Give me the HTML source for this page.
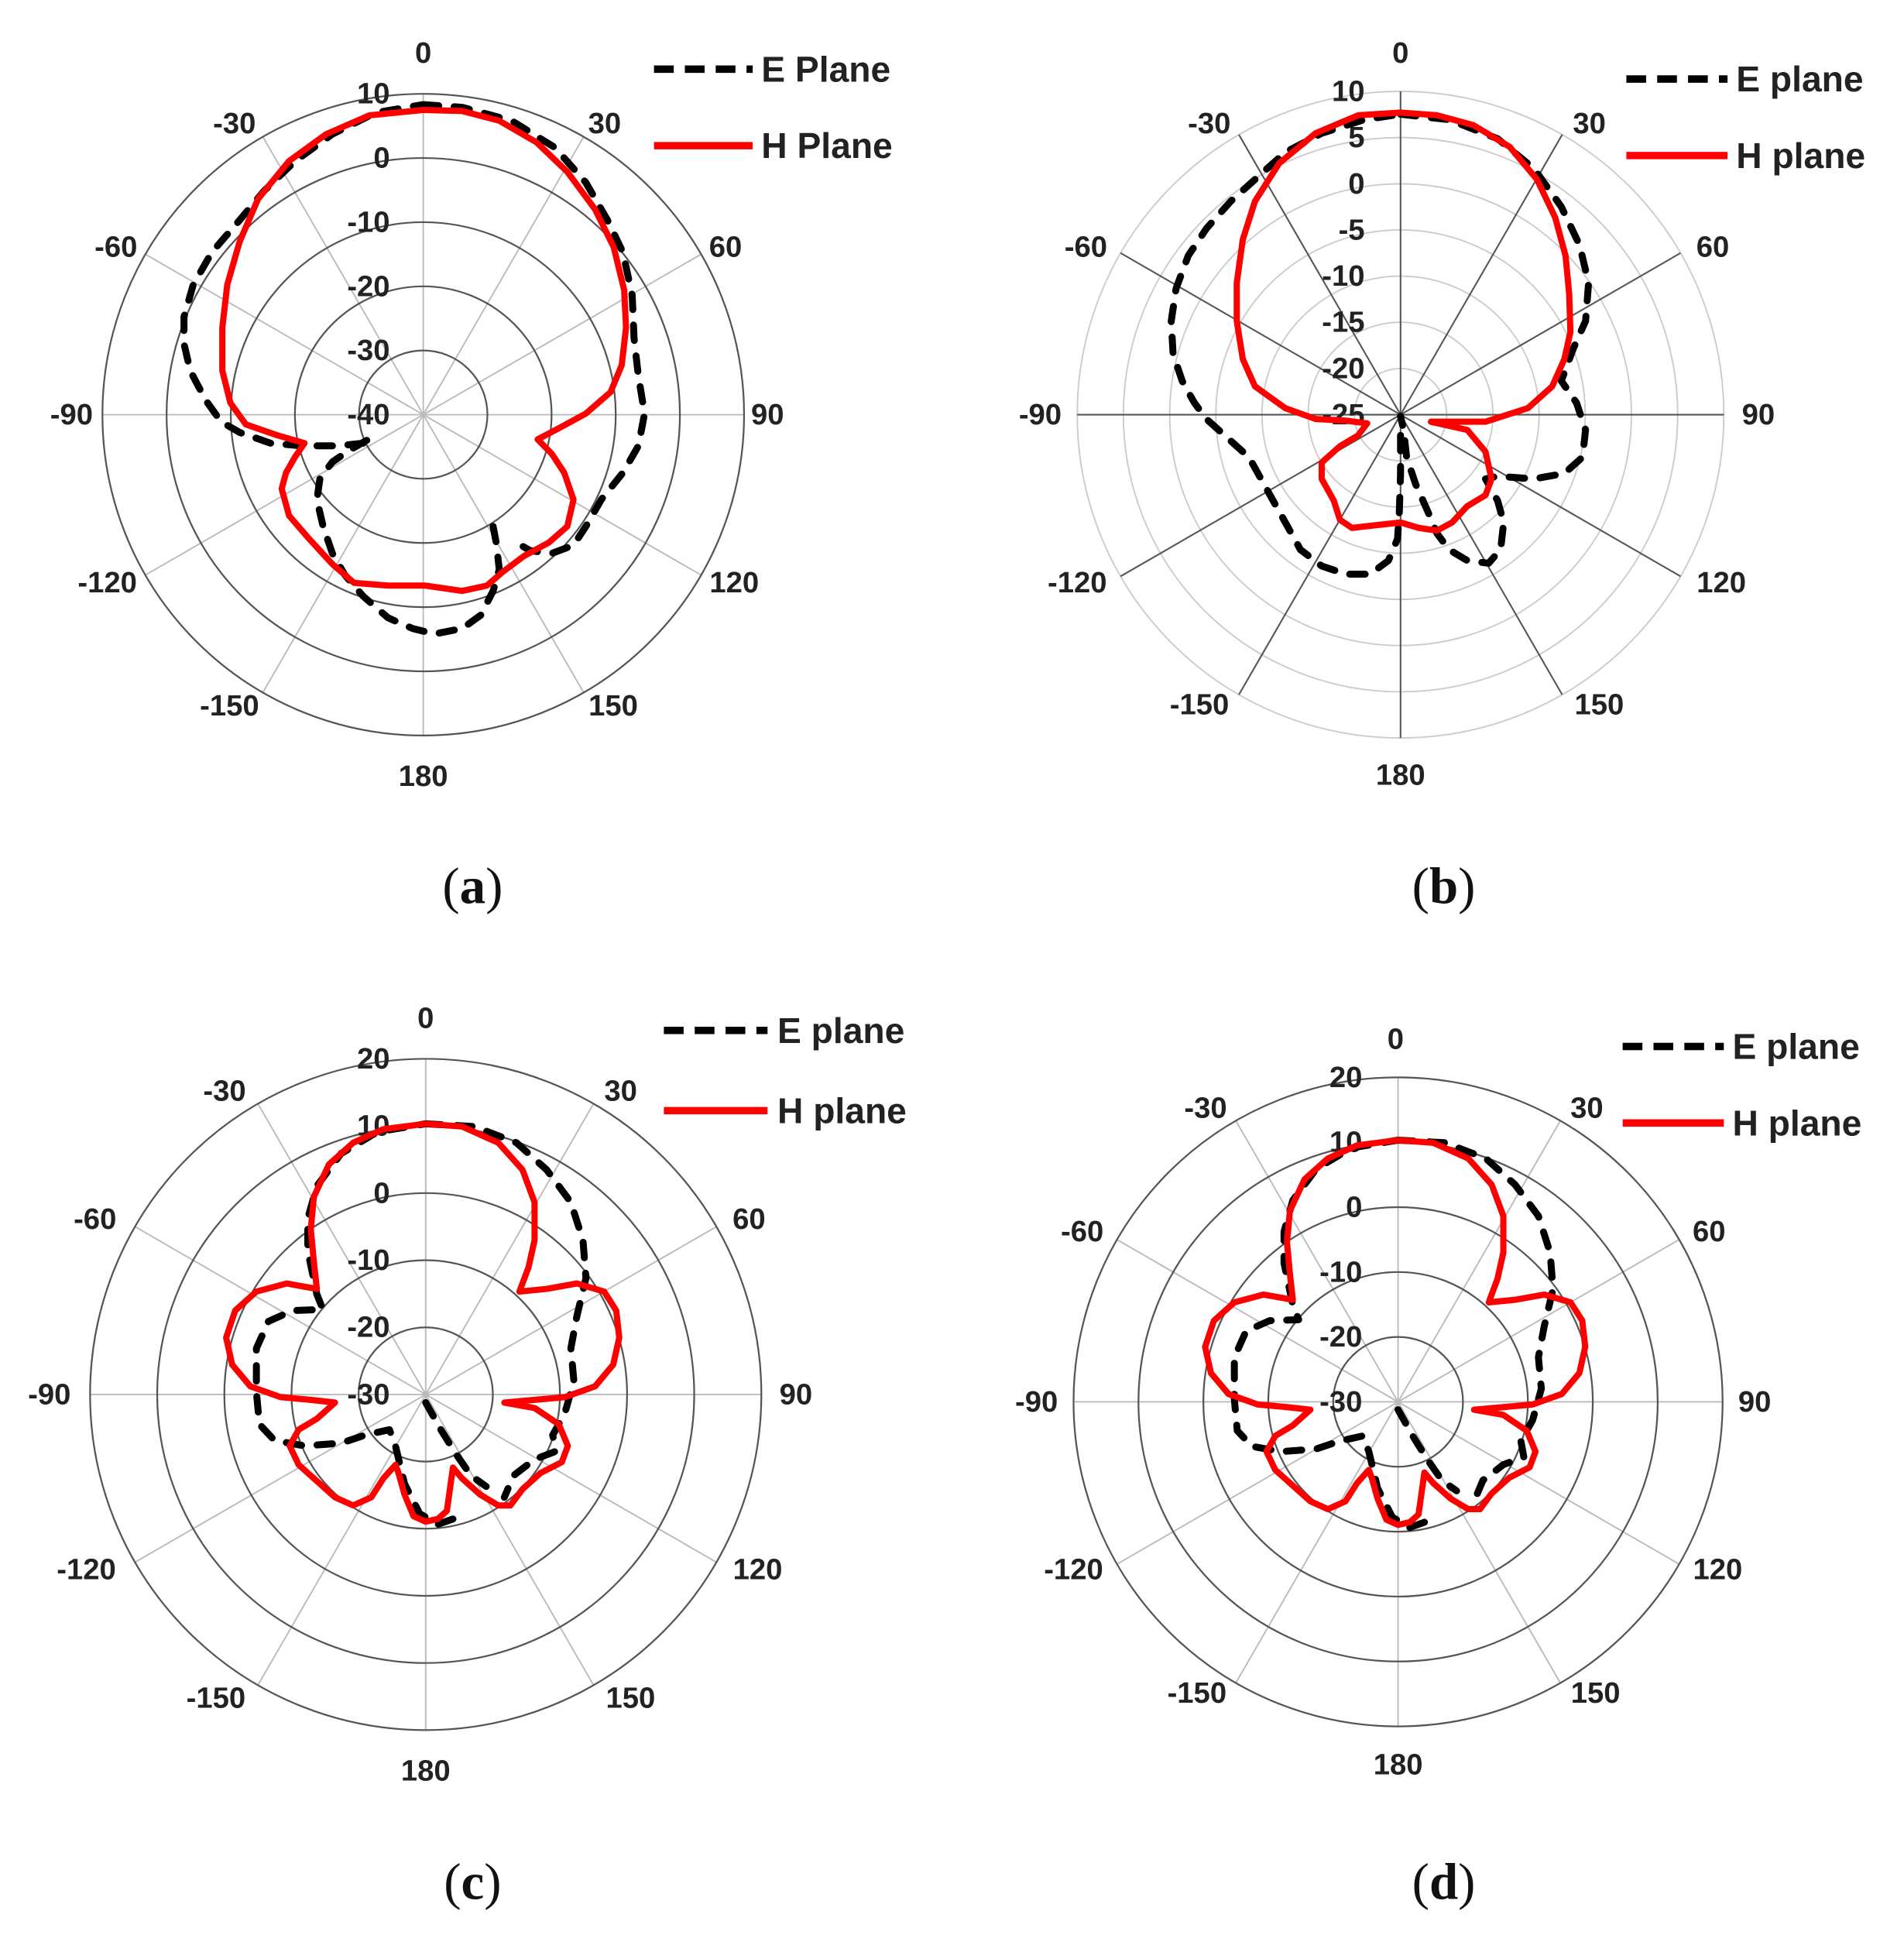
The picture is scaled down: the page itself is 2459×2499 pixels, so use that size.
<!DOCTYPE html>
<html><head><meta charset="utf-8"><style>
html,body{margin:0;padding:0;background:#fff}
svg{display:block}
text{font-family:"Liberation Sans",sans-serif;fill:#111}
.ang{font-size:24px;text-anchor:middle;dominant-baseline:central;font-weight:bold;fill:#222}
.rad{font-size:24px;text-anchor:end;dominant-baseline:central;font-weight:bold;fill:#222}
.leg{font-size:29px;dominant-baseline:central;font-weight:bold;fill:#222}
.cap{font-family:"Liberation Serif",serif;font-size:42px;text-anchor:middle;dominant-baseline:central}
.H{fill:none;stroke:#f00;stroke-width:8;stroke-linejoin:round;stroke-linecap:round;vector-effect:non-scaling-stroke}
.E{fill:none;stroke:#000;stroke-width:9;stroke-dasharray:20 20;stroke-linecap:round;stroke-linejoin:round;vector-effect:non-scaling-stroke}
</style></head><body>
<svg width="2459" height="2499" viewBox="0 0 1543 1568" xmlns="http://www.w3.org/2000/svg">
<rect width="1560" height="1585" fill="#fff"/>

<!-- ===== Panel a ===== -->
<g stroke="#bbb" stroke-width="1.2">
<line x1="343" y1="76" x2="343" y2="596"/><line x1="473" y1="110.8" x2="213" y2="561.2"/>
<line x1="568.2" y1="206" x2="117.8" y2="466"/><line x1="83" y1="336" x2="603" y2="336"/>
<line x1="568.2" y1="466" x2="117.8" y2="206"/><line x1="473" y1="561.2" x2="213" y2="110.8"/>
</g>
<g fill="none" stroke="#555" stroke-width="1.4">
<circle cx="343" cy="336" r="52"/><circle cx="343" cy="336" r="104"/><circle cx="343" cy="336" r="156"/><circle cx="343" cy="336" r="208"/><circle cx="343" cy="336" r="260"/>
</g>
<text class="rad" x="316" y="76">10</text><text class="rad" x="316" y="128">0</text><text class="rad" x="316" y="180">-10</text><text class="rad" x="316" y="232">-20</text><text class="rad" x="316" y="284">-30</text><text class="rad" x="316" y="336">-40</text>
<text class="ang" x="343" y="43">0</text><text class="ang" x="490" y="100">30</text><text class="ang" x="588" y="200">60</text><text class="ang" x="622" y="336">90</text><text class="ang" x="595" y="472">120</text><text class="ang" x="497" y="572">150</text><text class="ang" x="343" y="629">180</text><text class="ang" x="186" y="572">-150</text><text class="ang" x="87" y="472">-120</text><text class="ang" x="58" y="336">-90</text><text class="ang" x="94" y="200">-60</text><text class="ang" x="190" y="100">-30</text>
<g transform="translate(343,336) scale(0.5010,0.4355) translate(-697,-762)">
<path class="E" d="M697,185 L760,190 840,215 910,265 960,330 995,400 1020,460 1035,540 1038,620 1045,690 1055,760 1045,820 1020,870 985,920 960,970 940,1005 905,1020 870,1015 840,995 M810,970 L815,1000 820,1050 810,1090 790,1135 760,1160 715,1170 680,1160 640,1140 600,1100 570,1060 550,1020 535,970 525,920 530,880 550,850 575,830 605,810 620,805 M600,815 L560,820 500,820 450,815 400,795 370,775 345,735 320,680 310,630 310,580 325,520 355,460 400,400 440,345 490,290 550,240 620,200 697,185"/>
<path class="H" d="M697,195 L760,197 820,215 880,255 930,310 975,380 1005,450 1022,530 1025,600 1018,670 1000,720 960,760 920,785 882,808 905,835 925,870 940,920 930,970 900,1000 860,1025 825,1055 800,1080 760,1090 700,1080 640,1080 585,1075 550,1040 510,990 480,950 468,900 475,870 490,840 505,815 460,800 410,780 385,740 372,680 372,600 380,520 400,440 430,360 480,290 540,240 610,205 Z"/>
</g>
<line x1="530" y1="56" x2="610" y2="56" stroke="#000" stroke-width="6" stroke-dasharray="16 9 16 9 16 9 4 0"/>
<text class="leg" x="617" y="56">E Plane</text>
<line x1="530" y1="118" x2="610" y2="118" stroke="#f00" stroke-width="6"/>
<text class="leg" x="617" y="118">H Plane</text>

<!-- ===== Panel b ===== -->
<g fill="none" stroke="#ccc" stroke-width="1.2">
<circle cx="1135" cy="336" r="37.4"/><circle cx="1135" cy="336" r="74.9"/><circle cx="1135" cy="336" r="112.3"/><circle cx="1135" cy="336" r="149.7"/><circle cx="1135" cy="336" r="187.1"/><circle cx="1135" cy="336" r="224.6"/><circle cx="1135" cy="336" r="262"/>
</g>
<g stroke="#555" stroke-width="1.3">
<line x1="1135" y1="74" x2="1135" y2="598"/><line x1="1266" y1="109.1" x2="1004" y2="562.9"/>
<line x1="1361.9" y1="205" x2="908.1" y2="467"/><line x1="873" y1="336" x2="1397" y2="336"/>
<line x1="1361.9" y1="467" x2="908.1" y2="205"/><line x1="1266" y1="562.9" x2="1004" y2="109.1"/>
</g>
<text class="rad" x="1106" y="74">10</text><text class="rad" x="1106" y="111.4">5</text><text class="rad" x="1106" y="148.9">0</text><text class="rad" x="1106" y="186.3">-5</text><text class="rad" x="1106" y="223.7">-10</text><text class="rad" x="1106" y="261.1">-15</text><text class="rad" x="1106" y="298.6">-20</text><text class="rad" x="1106" y="336">-25</text>
<text class="ang" x="1135" y="43">0</text><text class="ang" x="1288" y="100">30</text><text class="ang" x="1388" y="200">60</text><text class="ang" x="1425" y="336">90</text><text class="ang" x="1395" y="472">120</text><text class="ang" x="1296" y="571">150</text><text class="ang" x="1135" y="628">180</text><text class="ang" x="972" y="571">-150</text><text class="ang" x="873" y="472">-120</text><text class="ang" x="843" y="336">-90</text><text class="ang" x="880" y="200">-60</text><text class="ang" x="980" y="100">-30</text>
<g transform="translate(1135,336) scale(0.4916,0.4411) translate(-740,-762)">
<path class="E" d="M740,210 L820,220 900,255 960,310 1005,380 1035,450 1050,520 1045,590 1025,640 1005,700 1030,740 1045,790 1040,840 1010,870 960,880 900,875 880,880 900,920 910,960 905,1010 885,1035 850,1030 820,1010 800,980 785,940 765,890 750,840 745,790 740,765 M740,800 L740,870 738,940 735,990 720,1030 690,1055 650,1055 610,1040 575,1010 550,960 520,900 490,840 450,800 420,770 400,740 380,700 365,650 362,590 370,530 390,470 420,420 460,370 500,330 550,280 610,245 680,220 740,210"/>
<path class="H" d="M740,207 L800,212 860,230 920,270 965,330 995,400 1012,470 1018,540 1020,610 1010,660 990,710 950,750 880,775 790,775 850,790 880,830 890,880 880,910 850,930 825,960 800,975 770,970 740,960 700,965 660,970 640,955 630,920 610,880 610,850 640,820 670,800 685,778 650,773 600,770 550,750 500,710 480,660 470,590 470,520 480,440 500,370 540,300 600,245 670,212 Z"/>
</g>
<line x1="1318" y1="64" x2="1400" y2="64" stroke="#000" stroke-width="6" stroke-dasharray="16 9 16 9 16 9 4 0"/>
<text class="leg" x="1407" y="64">E plane</text>
<line x1="1318" y1="126" x2="1400" y2="126" stroke="#f00" stroke-width="6"/>
<text class="leg" x="1407" y="126">H plane</text>

<!-- ===== Panel c ===== -->
<g stroke="#bbb" stroke-width="1.2">
<line x1="345" y1="858" x2="345" y2="1402"/><line x1="481" y1="894.4" x2="209" y2="1365.6"/>
<line x1="580.6" y1="994" x2="109.4" y2="1266"/><line x1="73" y1="1130" x2="617" y2="1130"/>
<line x1="580.6" y1="1266" x2="109.4" y2="994"/><line x1="481" y1="1365.6" x2="209" y2="894.4"/>
</g>
<g fill="none" stroke="#555" stroke-width="1.4">
<circle cx="345" cy="1130" r="54.4"/><circle cx="345" cy="1130" r="108.8"/><circle cx="345" cy="1130" r="163.2"/><circle cx="345" cy="1130" r="217.6"/><circle cx="345" cy="1130" r="272"/>
</g>
<text class="rad" x="316" y="858">20</text><text class="rad" x="316" y="912.4">10</text><text class="rad" x="316" y="966.8">0</text><text class="rad" x="316" y="1021.2">-10</text><text class="rad" x="316" y="1075.6">-20</text><text class="rad" x="316" y="1130">-30</text>
<text class="ang" x="345" y="825">0</text><text class="ang" x="503" y="884">30</text><text class="ang" x="607" y="988">60</text><text class="ang" x="645" y="1130">90</text><text class="ang" x="614" y="1272">120</text><text class="ang" x="511" y="1376">150</text><text class="ang" x="345" y="1435">180</text><text class="ang" x="175" y="1376">-150</text><text class="ang" x="70" y="1272">-120</text><text class="ang" x="40" y="1130">-90</text><text class="ang" x="77" y="988">-60</text><text class="ang" x="182" y="884">-30</text>
<g transform="translate(345,1130) scale(0.4901,0.4387) translate(-700,-785)">
<path class="E" d="M700,285 L780,290 850,320 900,370 940,430 960,500 965,570 950,640 940,700 945,760 930,820 910,860 915,890 880,905 845,935 830,975 M700,800 L725,850 750,895 775,935 800,955 M745,1015 L720,1025 690,1005 665,950 650,880 640,850 600,860 560,875 500,880 450,870 425,840 420,780 420,700 440,650 480,630 530,628 520,600 505,520 505,460 520,400 560,340 620,300 700,285"/>
<path class="H" d="M700,285 L760,290 820,320 860,370 880,430 880,500 870,550 855,595 900,590 950,580 995,595 1015,630 1020,680 1010,730 980,770 930,790 880,795 830,800 880,810 920,840 935,880 925,910 890,930 860,960 840,990 820,990 790,970 760,940 745,920 740,960 735,1000 720,1015 700,1020 680,1010 665,970 655,930 650,915 630,940 610,975 580,990 550,975 520,945 490,915 475,880 490,850 520,830 550,800 510,795 460,790 410,770 380,730 370,680 385,630 420,595 470,580 520,590 515,540 510,480 515,420 540,360 580,320 630,295 Z"/>
</g>
<line x1="538" y1="835" x2="622" y2="835" stroke="#000" stroke-width="6" stroke-dasharray="16 9 16 9 16 9 4 0"/>
<text class="leg" x="630" y="835">E plane</text>
<line x1="538" y1="900" x2="622" y2="900" stroke="#f00" stroke-width="6"/>
<text class="leg" x="630" y="900">H plane</text>

<!-- ===== Panel d ===== -->
<g stroke="#bbb" stroke-width="1.2">
<line x1="1133" y1="873" x2="1133" y2="1399"/><line x1="1264.5" y1="908.2" x2="1001.5" y2="1363.8"/>
<line x1="1360.8" y1="1004.5" x2="905.2" y2="1267.5"/><line x1="870" y1="1136" x2="1396" y2="1136"/>
<line x1="1360.8" y1="1267.5" x2="905.2" y2="1004.5"/><line x1="1264.5" y1="1363.8" x2="1001.5" y2="908.2"/>
</g>
<g fill="none" stroke="#555" stroke-width="1.4">
<circle cx="1133" cy="1136" r="52.6"/><circle cx="1133" cy="1136" r="105.2"/><circle cx="1133" cy="1136" r="157.8"/><circle cx="1133" cy="1136" r="210.4"/><circle cx="1133" cy="1136" r="263"/>
</g>
<text class="rad" x="1104" y="873">20</text><text class="rad" x="1104" y="925.6">10</text><text class="rad" x="1104" y="978.2">0</text><text class="rad" x="1104" y="1030.8">-10</text><text class="rad" x="1104" y="1083.4">-20</text><text class="rad" x="1104" y="1136">-30</text>
<text class="ang" x="1131" y="842">0</text><text class="ang" x="1286" y="898">30</text><text class="ang" x="1385" y="998">60</text><text class="ang" x="1422" y="1136">90</text><text class="ang" x="1392" y="1272">120</text><text class="ang" x="1293" y="1372">150</text><text class="ang" x="1133" y="1430">180</text><text class="ang" x="970" y="1372">-150</text><text class="ang" x="870" y="1272">-120</text><text class="ang" x="840" y="1136">-90</text><text class="ang" x="877" y="998">-60</text><text class="ang" x="977" y="898">-30</text>
<g transform="translate(1133,1136) scale(0.4739,0.4242) translate(-700,-785)">
<path class="E" d="M700,285 L780,290 850,320 900,370 940,430 960,500 965,570 950,640 940,700 945,760 930,820 910,860 915,890 880,905 845,935 830,975 M700,800 L725,850 750,895 775,935 800,955 M745,1015 L720,1025 690,1005 665,950 650,880 640,850 600,860 560,875 500,880 450,870 425,840 420,780 420,700 440,650 480,630 530,628 520,600 505,520 505,460 520,400 560,340 620,300 700,285"/>
<path class="H" d="M700,285 L760,290 820,320 860,370 880,430 880,500 870,550 855,595 900,590 950,580 995,595 1015,630 1020,680 1010,730 980,770 930,790 880,795 830,800 880,810 920,840 935,880 925,910 890,930 860,960 840,990 820,990 790,970 760,940 745,920 740,960 735,1000 720,1015 700,1020 680,1010 665,970 655,930 650,915 630,940 610,975 580,990 550,975 520,945 490,915 475,880 490,850 520,830 550,800 510,795 460,790 410,770 380,730 370,680 385,630 420,595 470,580 520,590 515,540 510,480 515,420 540,360 580,320 630,295 Z"/>
</g>
<line x1="1315" y1="848" x2="1397" y2="848" stroke="#000" stroke-width="6" stroke-dasharray="16 9 16 9 16 9 4 0"/>
<text class="leg" x="1404" y="848">E plane</text>
<line x1="1315" y1="910" x2="1397" y2="910" stroke="#f00" stroke-width="6"/>
<text class="leg" x="1404" y="910">H plane</text>

<!-- captions -->
<text class="cap" x="383" y="718">(<tspan font-weight="bold">a</tspan>)</text>
<text class="cap" x="1170" y="718">(<tspan font-weight="bold">b</tspan>)</text>
<text class="cap" x="383" y="1525">(<tspan font-weight="bold">c</tspan>)</text>
<text class="cap" x="1170" y="1525">(<tspan font-weight="bold">d</tspan>)</text>
</svg>
</body></html>
